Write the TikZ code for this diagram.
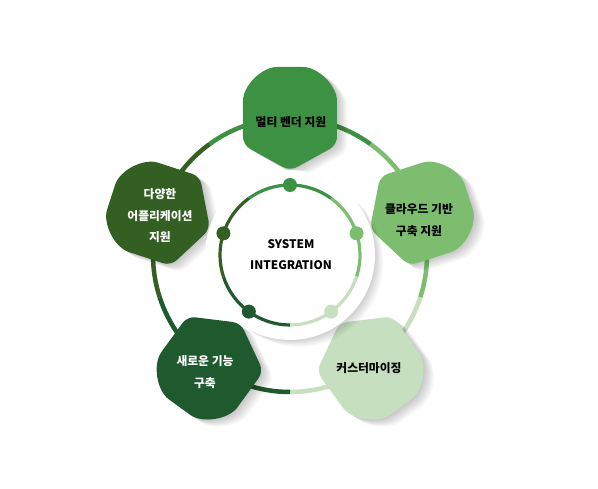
\documentclass[tikz,border=0pt]{standalone}
\usepackage{fontspec}
\newfontfamily\kr{Noto Sans CJK KR}
\definecolor{cA}{HTML}{3C9142}
\definecolor{cB}{HTML}{7DBD6F}
\definecolor{cC}{HTML}{C6E0BF}
\definecolor{cD}{HTML}{1E5A2D}
\definecolor{cE}{HTML}{335F23}
\tikzset{
  ringout/.style={line width=4.5pt},
  ringin/.style={line width=3.2pt},
  lbl/.style={font=\kr\bfseries\fontsize{11.8}{21.5}\selectfont, align=center, inner sep=0pt},
}
\def\petalpath{(0,-50) -- (-47,-24) -- (-47,12) .. controls (-47,35.2) and (-28.2,54) .. (-5,54) -- (5,54) .. controls (28.2,54) and (47,35.2) .. (47,12) -- (47,-24) -- cycle}
\begin{document}
\begin{tikzpicture}[x=1pt,y=1pt]
\useasboundingbox (-290,-234) rectangle (308,255);
\fill[white] (-290,-234) rectangle (308,255);
% outer ring
\foreach \a/\c in {90/cA,18/cB,-54/cC,-126/cD,162/cE}{
  \draw[ringout,\c] (\a-36:137) arc[start angle=\a-36,end angle=\a+36,radius=137];
}
% petal shadows
\foreach \a in {90,18,-54,-126,162}{
  \foreach \i in {1,...,7}{
    \fill[black,opacity=0.03,shift={(\a:134)},shift={(\i*1.5,-\i*1.0)},rotate=\a-90,rounded corners=8pt] \petalpath;
  }
}
% petals
\foreach \a/\c in {90/cA,18/cB,-54/cC,-126/cD,162/cE}{
  \fill[\c,shift={(\a:134)},rotate=\a-90,rounded corners=8pt] \petalpath;
}
% disk shadow
\foreach \i in {1,...,7}{
  \fill[black,opacity=0.028] (\i*1.3,-\i*1.1) circle[radius=84];
}
\fill[white] (0,0) circle[radius=85];
% inner ring
\foreach \a/\c in {90/cA,18/cB,-54/cC,-126/cD,162/cE}{
  \draw[ringin,\c] (\a-36:70) arc[start angle=\a-36,end angle=\a+36,radius=70];
  \fill[\c] (\a:70) circle[radius=7];
}
% labels
\node[lbl,font=\kr\bfseries\fontsize{11.8}{21}\selectfont] (center) at (1,0) {SYSTEM\\INTEGRATION};
\node[lbl,text=black] (multi) at (1,133) {멀티 벤더 지원};
\node[lbl,text=black] (cloud) at (129,35) {클라우드 기반\\구축 지원};
\node[lbl,text=black] (custom) at (79,-113) {커스터마이징};
\node[lbl,text=white] (newfn) at (-85,-117) {새로운 기능\\구축};
\node[lbl,text=white] (apps) at (-130,39) {다양한\\어플리케이션\\지원};
\end{tikzpicture}
\end{document}
